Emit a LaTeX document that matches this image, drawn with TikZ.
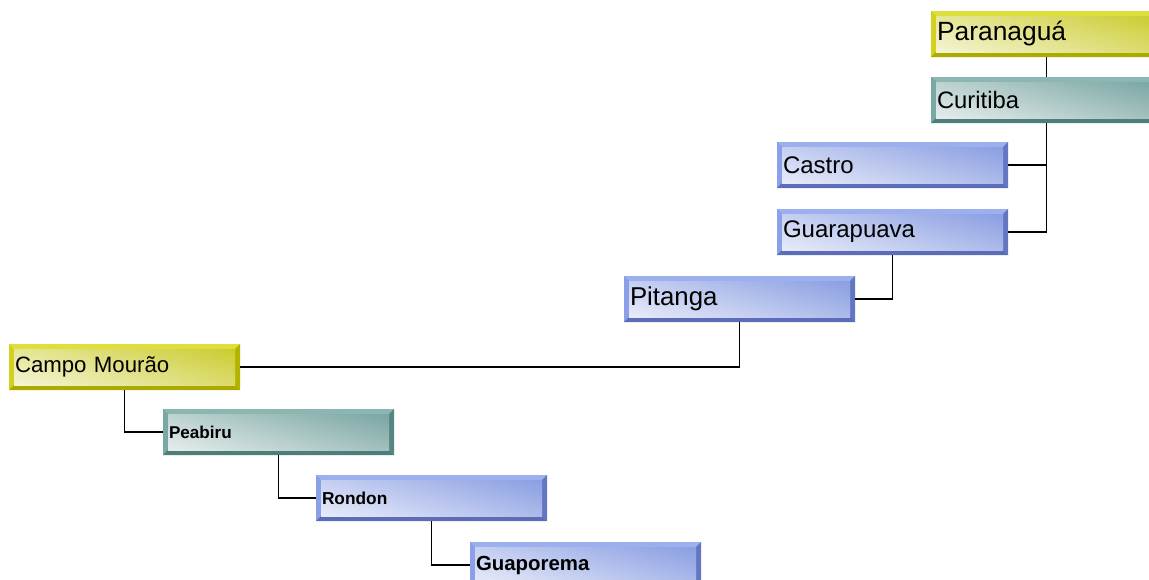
\documentclass[tikz,border=0pt]{standalone}
\usepackage{fontspec}
\setmainfont{Liberation Sans}
\usetikzlibrary{calc}
\definecolor{Ybase}{RGB}{200,200,10}
\definecolor{Ylight}{RGB}{222,222,60}
\definecolor{Ymid}{RGB}{210,210,30}
\definecolor{Ydark}{RGB}{170,170,0}
\definecolor{Ydark2}{RGB}{180,180,0}
\definecolor{Yface}{RGB}{200,200,30}
\definecolor{Tbase}{RGB}{110,158,154}
\definecolor{Tlight}{RGB}{140,182,178}
\definecolor{Tmid}{RGB}{122,168,164}
\definecolor{Tdark}{RGB}{78,126,122}
\definecolor{Tdark2}{RGB}{86,134,130}
\definecolor{Tface}{RGB}{110,158,154}
\definecolor{Bbase}{RGB}{128,150,224}
\definecolor{Blight}{RGB}{156,176,240}
\definecolor{Bmid}{RGB}{140,160,232}
\definecolor{Bdark}{RGB}{92,108,184}
\definecolor{Bdark2}{RGB}{100,118,194}
\definecolor{Bface}{RGB}{128,150,224}
\tikzset{
  bx/.style={anchor=north west, inner sep=0pt, outer sep=0pt,
    minimum width=231pt, minimum height=46pt, text width=219pt, align=left,
    font=\fontsize{22}{26}\selectfont,
    path picture={
      \path (path picture bounding box.north west) coordinate (ppnw)
            (path picture bounding box.north east) coordinate (ppne)
            (path picture bounding box.south west) coordinate (ppsw)
            (path picture bounding box.south east) coordinate (ppse);
      \fill[#1base] (ppnw) rectangle (ppse);
      \fill[#1light] (ppnw) -- (ppne) -- ($(ppne)+(-5,5)$) -- ($(ppnw)+(5,5)$) -- cycle;
      \fill[#1mid] (ppnw) -- ($(ppnw)+(5,5)$) -- ($(ppsw)+(5,-5)$) -- (ppsw) -- cycle;
      \fill[#1dark] (ppsw) -- ($(ppsw)+(5,-5)$) -- ($(ppse)+(-5,-5)$) -- (ppse) -- cycle;
      \fill[#1dark2] (ppne) -- (ppse) -- ($(ppse)+(-5,-5)$) -- ($(ppne)+(-5,5)$) -- cycle;
      \shade[left color=white, right color=#1face!85] ($(ppnw)+(5,5)$) rectangle ($(ppse)+(-5,-5)$);
      \shade[top color=#1face, middle color=white, bottom color=#1face!40, opacity=0.45] ($(ppnw)+(5,5)$) rectangle ($(ppse)+(-5,-5)$);
    }},
  fs/.style={font=\fontsize{#1}{#1}\selectfont},
  fsb/.style={font=\fontsize{#1}{#1}\selectfont\bfseries},
  conn/.style={draw=black, line width=1.7pt}
}
\begin{document}
\begin{tikzpicture}[x=1pt,y=-1pt]
\useasboundingbox (0,0) rectangle (1149,579);
\fill[white] (0,0) rectangle (1149,579);
\node[bx=Y, fs=26.4] (par) at (931,11) {Paranaguá};
\node[bx=T, fs=23.8] (cur) at (931,77) {Curitiba};
\node[bx=B, fs=24] (cas) at (777,142) {Castro};
\node[bx=B, fs=24] (gua) at (777,209) {Guarapuava};
\node[bx=B, fs=25.8] (pit) at (624,276) {Pitanga};
\node[bx=Y, fs=22.2] (cm) at (9,344) {Campo Mourão};
\node[bx=T, fsb=17.1] (pea) at (163,409) {Peabiru};
\node[bx=B, fsb=17.3] (ron) at (316,475) {Rondon};
\node[bx=B, fsb=20.4] (gup) at (470,542) {Guaporema};
\draw[conn] (par.south) -- (cur.north);
\draw[conn] (cur.south) |- (cas.east);
\draw[conn] (cur.south) |- (gua.east);
\draw[conn] (gua.south) |- (pit.east);
\draw[conn] (pit.south) |- (cm.east);
\draw[conn] (cm.south) |- (pea.west);
\draw[conn] (pea.south) |- (ron.west);
\draw[conn] (ron.south) |- (gup.west);
\end{tikzpicture}
\end{document}
